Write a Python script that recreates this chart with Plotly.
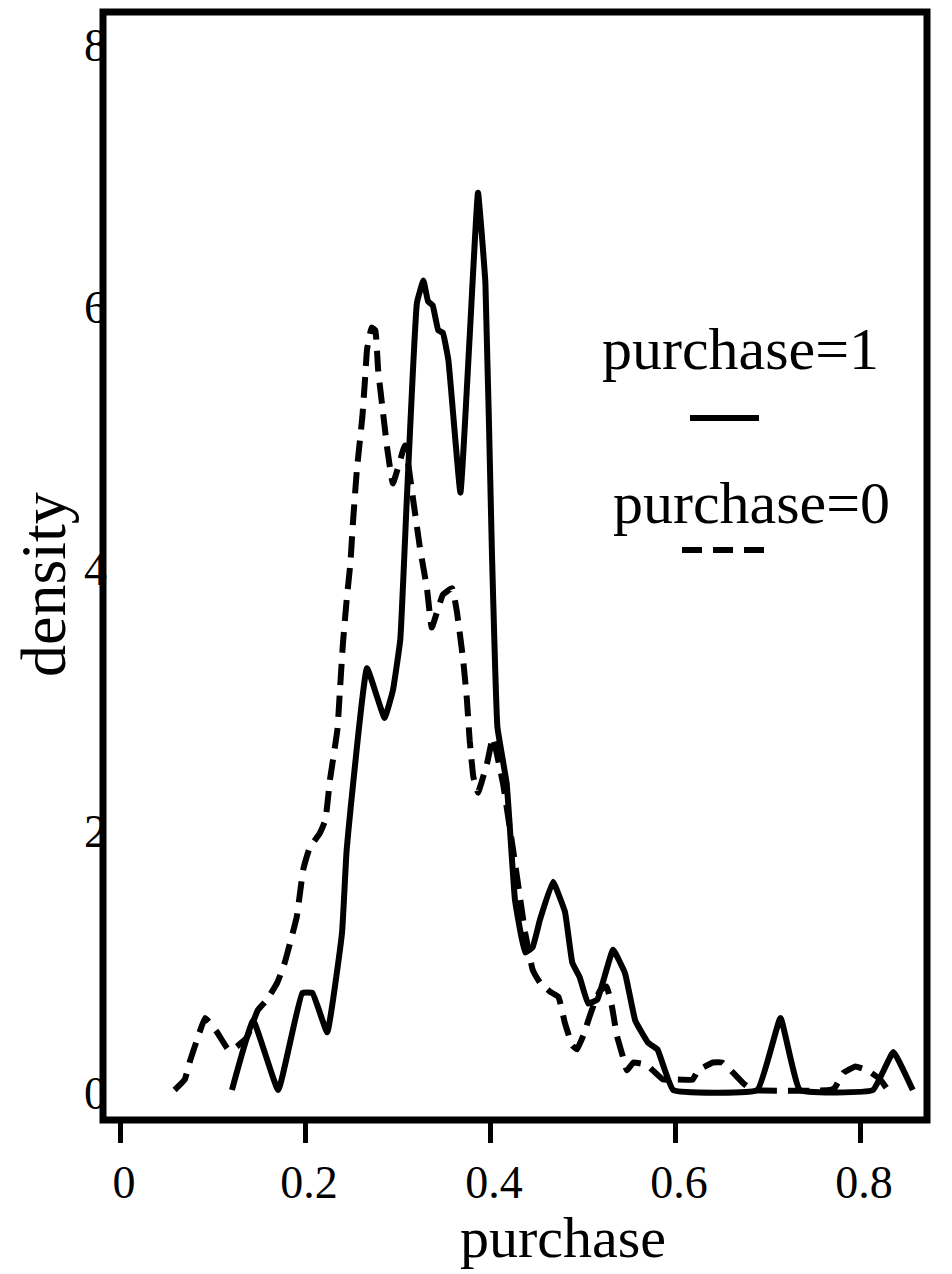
import plotly.graph_objects as go

# ---------------- data ----------------
purchase1_x = [0.121, 0.144, 0.171, 0.197, 0.208, 0.224, 0.240, 0.245, 0.267, 0.286,
               0.295, 0.303, 0.310, 0.321, 0.328, 0.333, 0.338, 0.344, 0.349, 0.355,
               0.368, 0.378, 0.387, 0.395, 0.402, 0.408, 0.418, 0.427, 0.438, 0.446,
               0.454, 0.468, 0.481, 0.489, 0.497, 0.506, 0.516, 0.533, 0.546, 0.557,
               0.571, 0.581, 0.598, 0.689, 0.714, 0.735, 0.814, 0.836, 0.857]
purchase1_density = [0, 0.53, 0, 0.74, 0.74, 0.44, 1.20, 1.83, 3.22, 2.84,
                     3.05, 3.44, 4.50, 6.01, 6.18, 6.02, 5.99, 5.80, 5.78, 5.57,
                     4.56, 5.75, 6.85, 6.16, 4.12, 2.77, 2.34, 1.45, 1.05, 1.09,
                     1.30, 1.59, 1.36, 0.97, 0.86, 0.66, 0.69, 1.07, 0.89, 0.53,
                     0.36, 0.31, 0, 0, 0.55, 0, 0, 0.29, 0]

purchase0_x = [0.059, 0.070, 0.076, 0.086, 0.092, 0.105, 0.117, 0.126, 0.137, 0.149,
               0.159, 0.170, 0.178, 0.191, 0.198, 0.205, 0.216, 0.222, 0.227, 0.235,
               0.238, 0.241, 0.245, 0.249, 0.252, 0.256, 0.262, 0.265, 0.267, 0.272,
               0.276, 0.279, 0.284, 0.289, 0.295, 0.308, 0.317, 0.324, 0.332, 0.337,
               0.349, 0.359, 0.364, 0.371, 0.375, 0.378, 0.382, 0.387, 0.397, 0.403,
               0.414, 0.425, 0.438, 0.446, 0.454, 0.465, 0.474, 0.481, 0.489, 0.494,
               0.501, 0.510, 0.519, 0.526, 0.532, 0.537, 0.543, 0.548, 0.555, 0.570,
               0.576, 0.587, 0.600, 0.619, 0.625, 0.641, 0.651, 0.663, 0.674, 0.684,
               0.768, 0.773, 0.782, 0.795, 0.808, 0.822, 0.830]
purchase0_density = [0, 0.08, 0.23, 0.44, 0.55, 0.44, 0.31, 0.33, 0.40, 0.61,
                     0.69, 0.82, 0.97, 1.32, 1.68, 1.85, 1.96, 2.06, 2.37, 2.75,
                     3.08, 3.41, 3.74, 4.02, 4.35, 4.73, 5.14, 5.44, 5.65, 5.82,
                     5.80, 5.50, 5.19, 4.89, 4.63, 4.92, 4.50, 4.15, 3.82, 3.53,
                     3.78, 3.83, 3.66, 3.28, 2.98, 2.67, 2.39, 2.27, 2.50, 2.69,
                     2.34, 1.83, 1.20, 0.92, 0.82, 0.75, 0.71, 0.51, 0.34, 0.31,
                     0.42, 0.61, 0.76, 0.79, 0.63, 0.42, 0.27, 0.15, 0.21, 0.19,
                     0.15, 0.08, 0.08, 0.08, 0.15, 0.21, 0.21, 0.13, 0.05, 0,
                     0, 0.02, 0.13, 0.18, 0.15, 0.08, 0]

x_tickvals = [0, 0.2, 0.4, 0.6, 0.8]
x_ticktext = ["0", "0.2", "0.4", "0.6", "0.8"]
y_tickvals = [0, 2, 4, 6, 8]
y_ticktext = ["0", "2", "4", "6", "8"]

series_names = ["purchase=1", "purchase=0"]
x_title = "purchase"
y_title = "density"

# ---------------- layout geometry ----------------
# the page body has an 8px margin, so the figure is drawn 8px in from the corner
OFF = 8
W, H = 952 - OFF, 1274 - OFF
L, R, T, B = 103 - OFF, 927 - OFF, 12 - OFF, 1120 - OFF  # plot-area edges (figure px)
FONT = "Liberation Serif, Times New Roman, serif"


def px_x(p):
    """page pixel -> paper x"""
    return (p - OFF - L) / (R - L)


def px_y(p):
    """page pixel -> paper y"""
    return (B - (p - OFF)) / (B - T)


fig = go.Figure()
fig.add_trace(go.Scatter(x=purchase1_x, y=purchase1_density, mode="lines",
                         name=series_names[0],
                         line=dict(color="black", width=6, shape="spline", smoothing=0.3)))
fig.add_trace(go.Scatter(x=purchase0_x, y=purchase0_density, mode="lines",
                         name=series_names[1],
                         line=dict(color="black", width=6, dash="21px,11px",
                                   shape="spline", smoothing=0.3)))

fig.update_layout(
    width=W, height=H,
    margin=dict(l=L, r=W - R, t=T, b=H - B, pad=0),
    paper_bgcolor="white", plot_bgcolor="white",
    showlegend=False,
    font=dict(family=FONT, color="black"),
    xaxis=dict(range=[-0.0184, 0.8724], tickvals=x_tickvals, ticktext=x_ticktext,
               showgrid=False, zeroline=False, showline=False,
               ticks="outside", ticklen=22, tickwidth=5, tickcolor="black",
               tickfont=dict(size=46, family=FONT), ticklabelstandoff=0,
               ticklabelshift=4, ticklabeloverflow="allow"),
    yaxis=dict(range=[-0.229, 8.229], tickvals=y_tickvals, ticktext=y_ticktext,
               showgrid=False, zeroline=False, showline=False, ticks="",
               tickfont=dict(size=46, family=FONT), ticklabelstandoff=-5,
               ticklabelshift=3, ticklabeloverflow="allow"),
    shapes=[
        dict(type="rect", xref="paper", yref="paper", x0=0, x1=1, y0=0, y1=1,
             line=dict(color="black", width=7), layer="above"),
        dict(type="line", xref="paper", yref="paper",
             x0=px_x(690), x1=px_x(759), y0=px_y(418), y1=px_y(418),
             line=dict(color="black", width=6)),
        dict(type="line", xref="paper", yref="paper",
             x0=px_x(682), x1=px_x(765), y0=px_y(550), y1=px_y(550),
             line=dict(color="black", width=6, dash="20px,11px")),
    ],
    annotations=[
        dict(text=series_names[0], xref="paper", yref="paper", x=px_x(740), y=px_y(349),
             xanchor="center", yanchor="middle", showarrow=False,
             font=dict(size=60, family=FONT, color="black")),
        dict(text=series_names[1], xref="paper", yref="paper", x=px_x(751), y=px_y(503),
             xanchor="center", yanchor="middle", showarrow=False,
             font=dict(size=60, family=FONT, color="black")),
        dict(text=x_title, xref="paper", yref="paper", x=px_x(563), y=px_y(1237),
             xanchor="center", yanchor="middle", showarrow=False,
             font=dict(size=58, family=FONT, color="black")),
        dict(text=y_title, xref="paper", yref="paper", x=px_x(43), y=px_y(585),
             xanchor="center", yanchor="middle", showarrow=False, textangle=-90,
             font=dict(size=64, family=FONT, color="black")),
    ],
)

fig.write_html("out.html")
